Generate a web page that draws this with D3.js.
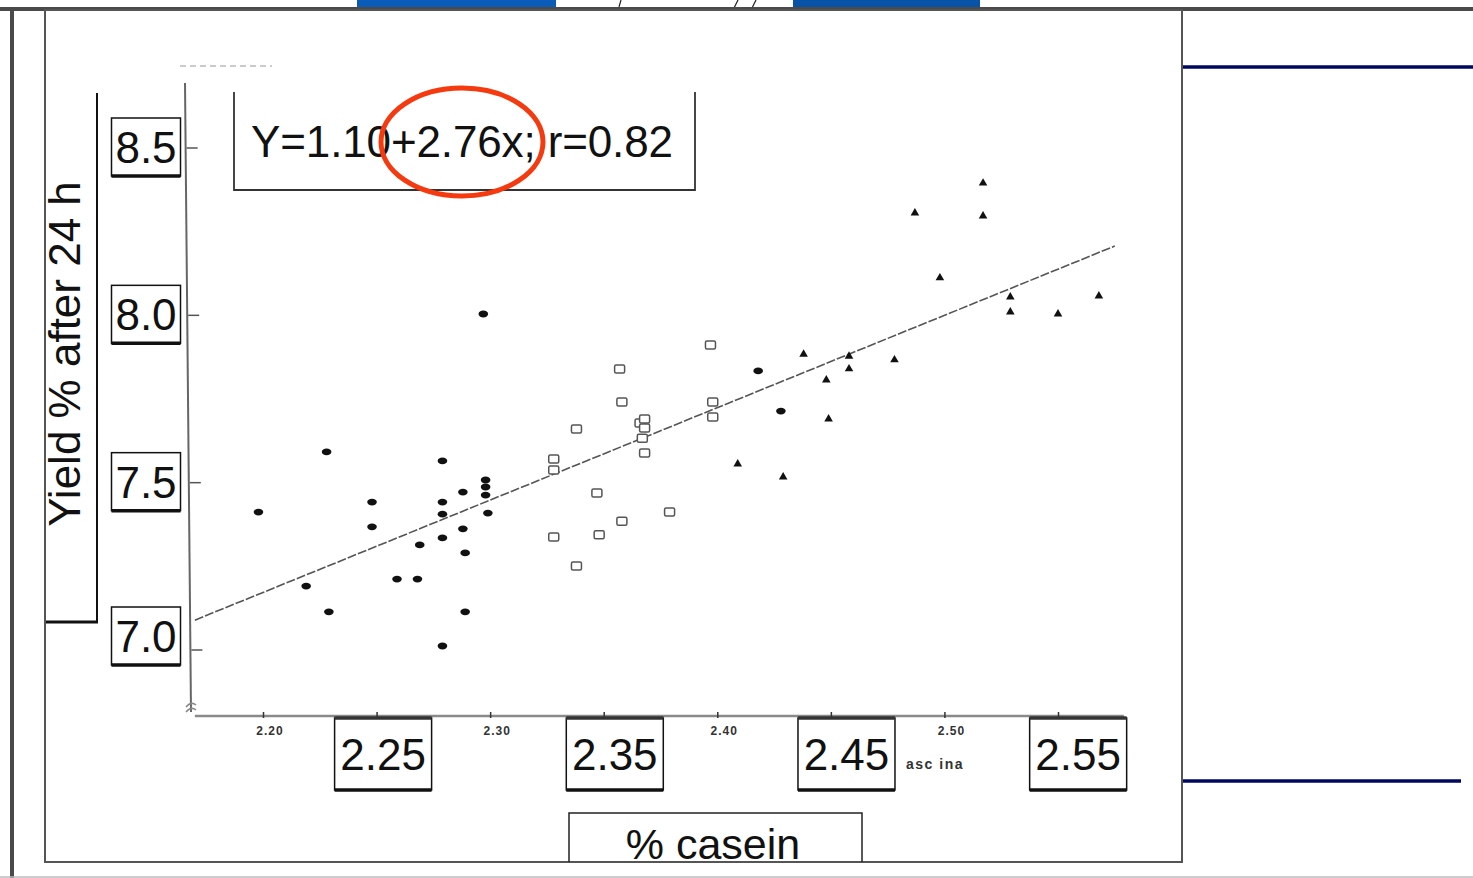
<!DOCTYPE html>
<html>
<head>
<meta charset="utf-8">
<script src="https://cdn.jsdelivr.net/npm/d3@7"></script>
<style>
  html, body { margin: 0; padding: 0; background: #fff; }
  svg { display: block; }
  text { font-family: "Liberation Sans", Arial, sans-serif; }
</style>
</head>
<body>
<svg id="chart" width="1473" height="878"></svg>
<script>
// ---- data ----------------------------------------------------------------
// % casein (x) and yield % after 24 h (y), three groups of samples
const groupA_x = [2.198, 2.219, 2.228, 2.229, 2.248, 2.248, 2.259, 2.268, 2.269, 2.279, 2.279, 2.279, 2.279, 2.279, 2.288, 2.288, 2.289, 2.289, 2.298, 2.298, 2.298, 2.299, 2.297, 2.418, 2.428];
const groupA_y = [7.412, 7.191, 7.592, 7.114, 7.442, 7.368, 7.212, 7.212, 7.314, 7.565, 7.442, 7.406, 7.335, 7.012, 7.472, 7.362, 7.290, 7.114, 7.508, 7.487, 7.463, 7.409, 8.004, 7.834, 7.714];

const groupB_x = [2.397, 2.357, 2.358, 2.338, 2.366, 2.368, 2.368, 2.367, 2.368, 2.398, 2.398, 2.328, 2.328, 2.347, 2.358, 2.379, 2.328, 2.348, 2.338];
const groupB_y = [7.911, 7.840, 7.741, 7.660, 7.678, 7.690, 7.663, 7.633, 7.589, 7.741, 7.696, 7.571, 7.538, 7.469, 7.385, 7.412, 7.338, 7.344, 7.251];

const groupC_x = [2.517, 2.487, 2.517, 2.498, 2.529, 2.568, 2.529, 2.550, 2.438, 2.458, 2.478, 2.458, 2.448, 2.449, 2.409, 2.429];
const groupC_y = [8.395, 8.306, 8.297, 8.112, 8.055, 8.058, 8.010, 8.004, 7.884, 7.878, 7.867, 7.840, 7.807, 7.690, 7.556, 7.517];

// regression Y = a + b x
const fitIntercept = 1.10;
const fitSlope = 2.76;
const fitR = 0.82;
const fitXExtent = [2.17, 2.575];

// axis labels
const yTickValues = [8.5, 8.0, 7.5, 7.0];
const xSmallTickValues = [2.20, 2.25, 2.30, 2.35, 2.40, 2.45, 2.50, 2.55];
const xSmallLabelValues = [2.20, 2.30, 2.40, 2.50];
const xBigLabelValues = [2.25, 2.35, 2.45, 2.55];
const yTitle = "Yield % after 24 h";
const xTitle = "% casein";
const xFragment = "asc ina";

// ---- scales --------------------------------------------------------------
const x = d3.scaleLinear().domain([2.20, 2.55]).range([263, 1058]);
const y = d3.scaleLinear().domain([7.0, 8.5]).range([650, 148]);

const svg = d3.select("#chart");

// ---- slide frame ---------------------------------------------------------
svg.append("rect").attr("x", 0).attr("y", 0).attr("width", 1473).attr("height", 878).attr("fill", "#fff");
// blue header tabs
svg.append("rect").attr("x", 357).attr("y", 0).attr("width", 199).attr("height", 7).attr("fill", "#0a5cb8");
svg.append("rect").attr("x", 793).attr("y", 0).attr("width", 187).attr("height", 7).attr("fill", "#0753a8");
// clipped title strokes between the tabs
[[619, 7, 621, 0], [734, 8, 738, 0], [752, 8, 756, 0]].forEach(s =>
  svg.append("line").attr("x1", s[0]).attr("y1", s[1]).attr("x2", s[2]).attr("y2", s[3])
    .attr("stroke", "#222").attr("stroke-width", 1.2));
// dark grey top band and left border
svg.append("rect").attr("x", 0).attr("y", 7).attr("width", 1473).attr("height", 4).attr("fill", "#4a4a4a");
svg.append("rect").attr("x", 10).attr("y", 7).attr("width", 4).attr("height", 871).attr("fill", "#4a4a4a");
svg.append("line").attr("x1", 0).attr("y1", 877).attr("x2", 1473).attr("y2", 877).attr("stroke", "#bbb").attr("stroke-width", 1.5);

// navy rules on the right
svg.append("line").attr("x1", 1182).attr("y1", 67).attr("x2", 1473).attr("y2", 67)
  .attr("stroke", "#00075e").attr("stroke-width", 3.5);
svg.append("line").attr("x1", 1182).attr("y1", 781).attr("x2", 1461).attr("y2", 781)
  .attr("stroke", "#00075e").attr("stroke-width", 3.5);

// inner picture panel
svg.append("rect").attr("x", 45).attr("y", 10).attr("width", 1137).attr("height", 852)
  .attr("fill", "#fff").attr("stroke", "#555").attr("stroke-width", 2);

// ---- y title box ---------------------------------------------------------
const yTitleG = svg.append("g");
yTitleG.append("line").attr("x1", 97).attr("y1", 93).attr("x2", 97).attr("y2", 623).attr("stroke", "#111").attr("stroke-width", 2);
yTitleG.append("line").attr("x1", 46).attr("y1", 622).attr("x2", 98).attr("y2", 622).attr("stroke", "#111").attr("stroke-width", 3);
yTitleG.append("text")
  .attr("transform", "translate(80,354) rotate(-90)")
  .attr("text-anchor", "middle")
  .attr("font-size", 44)
  .attr("fill", "#111")
  .text(yTitle);

// ---- axes ----------------------------------------------------------------
// faint dotted stub above the y axis
svg.append("line").attr("x1", 180).attr("y1", 66).attr("x2", 272).attr("y2", 66)
  .attr("stroke", "#bbb").attr("stroke-width", 1.5).attr("stroke-dasharray", "6,4");

// vertical axis line
svg.append("line").attr("x1", 185).attr("y1", 83).attr("x2", 191).attr("y2", 712)
  .attr("stroke", "#666").attr("stroke-width", 2);
// y ticks
svg.append("g").selectAll("line").data(yTickValues).join("line")
  .attr("x1", d => 186 + (y(d) - 83) * 6 / 629)
  .attr("x2", d => 197 + (y(d) - 83) * 6 / 629)
  .attr("y1", d => y(d)).attr("y2", d => y(d))
  .attr("stroke", "#555").attr("stroke-width", 1.5);
// axis break
svg.append("path").attr("d", "M186,707 q5,-6 10,-2 M186,712 q5,-6 10,-2")
  .attr("fill", "none").attr("stroke", "#888").attr("stroke-width", 1.5);

// horizontal axis
svg.append("line").attr("x1", x(2.17)).attr("y1", 716).attr("x2", x(2.579)).attr("y2", 716)
  .attr("stroke", "#8a8a8a").attr("stroke-width", 2.5);
const xAxis = d3.axisBottom(x).tickValues(xSmallTickValues).tickSize(-6).tickFormat(() => "");
const xAxisG = svg.append("g").attr("transform", "translate(0,718)").call(xAxis);
xAxisG.select(".domain").remove();
xAxisG.selectAll(".tick line").attr("stroke", "#333").attr("stroke-width", 1.5);

svg.append("g").selectAll("text").data(xSmallLabelValues).join("text")
  .attr("x", d => x(d) + 7).attr("y", 735)
  .attr("text-anchor", "middle").attr("font-size", 12).attr("font-weight", "bold")
  .attr("letter-spacing", 1).attr("fill", "#333")
  .text(d => d.toFixed(2));

svg.append("text").attr("x", 906).attr("y", 769).attr("font-size", 14).attr("font-weight", "bold")
  .attr("letter-spacing", 1.5).attr("fill", "#333").text(xFragment);

// ---- boxed tick labels ---------------------------------------------------
function boxedLabel(g, cx, cy, w, h, label, thickTop) {
  const x0 = cx - w / 2, y0 = cy - h / 2;
  g.append("rect").attr("x", x0).attr("y", y0).attr("width", w).attr("height", h)
    .attr("fill", "#fff").attr("stroke", "#111").attr("stroke-width", 1.5);
  g.append("line").attr("x1", x0).attr("y1", y0 + h).attr("x2", x0 + w).attr("y2", y0 + h)
    .attr("stroke", "#111").attr("stroke-width", 3.5);
  if (thickTop) {
    g.append("line").attr("x1", x0).attr("y1", y0).attr("x2", x0 + w).attr("y2", y0)
      .attr("stroke", "#333").attr("stroke-width", 3.5);
  }
  g.append("text").attr("x", cx).attr("y", cy + 16)
    .attr("text-anchor", "middle").attr("font-size", 44).attr("fill", "#111")
    .text(label);
}

const yLabelG = svg.append("g");
yTickValues.forEach(v => {
  const cy = y(v) - (v === 7.0 ? 14 : 1);
  boxedLabel(yLabelG, 146, cy, 69, 58, v.toFixed(1), false);
});

const xLabelG = svg.append("g");
xBigLabelValues.forEach(v => {
  boxedLabel(xLabelG, x(v) * 1.02 - 1, 754, 97, 72, v.toFixed(2), true);
});

// ---- x title box ---------------------------------------------------------
svg.append("path").attr("d", "M569,862 V813 H862 V862")
  .attr("fill", "none").attr("stroke", "#222").attr("stroke-width", 1.5);
svg.append("text").attr("x", 713).attr("y", 859).attr("text-anchor", "middle")
  .attr("font-size", 43).attr("fill", "#111").text(xTitle);

// ---- regression line -----------------------------------------------------
const fitLine = d3.line().x(d => x(d)).y(d => y(fitIntercept + fitSlope * d));
svg.append("path").datum(fitXExtent).attr("d", fitLine)
  .attr("fill", "none").attr("stroke", "#555").attr("stroke-width", 1.6)
  .attr("stroke-dasharray", "9,2");

// ---- points --------------------------------------------------------------
const ptsA = groupA_x.map((v, i) => ({ x: v, y: groupA_y[i] }));
const ptsB = groupB_x.map((v, i) => ({ x: v, y: groupB_y[i] }));
const ptsC = groupC_x.map((v, i) => ({ x: v, y: groupC_y[i] }));

svg.append("g").selectAll("ellipse").data(ptsA).join("ellipse")
  .attr("cx", d => x(d.x)).attr("cy", d => y(d.y))
  .attr("rx", 4.8).attr("ry", 3.4).attr("fill", "#111");

svg.append("g").selectAll("rect").data(ptsB).join("rect")
  .attr("x", d => x(d.x) - 5).attr("y", d => y(d.y) - 4)
  .attr("width", 10).attr("height", 8).attr("rx", 1.5)
  .attr("fill", "#fff").attr("stroke", "#555").attr("stroke-width", 1.5);

const tri = d3.symbol().type(d3.symbolTriangle).size(32);
svg.append("g").selectAll("path").data(ptsC).join("path")
  .attr("transform", d => `translate(${x(d.x)},${y(d.y)})`)
  .attr("d", tri).attr("fill", "#111");

// ---- equation box --------------------------------------------------------
svg.append("path").attr("d", "M234,92 V190 H695 V92")
  .attr("fill", "none").attr("stroke", "#333").attr("stroke-width", 1.8);
svg.append("text").attr("x", 251).attr("y", 157)
  .attr("font-size", 44).attr("fill", "#111")
  .attr("textLength", 422).attr("lengthAdjust", "spacing")
  .text(`Y=${fitIntercept.toFixed(2)}+${fitSlope.toFixed(2)}x; r=${fitR.toFixed(2)}`);

// red highlight ring around the slope
svg.append("ellipse").attr("cx", 462).attr("cy", 142).attr("rx", 81).attr("ry", 54)
  .attr("fill", "none").attr("stroke", "#f53a10").attr("stroke-width", 5);
</script>
</body>
</html>
